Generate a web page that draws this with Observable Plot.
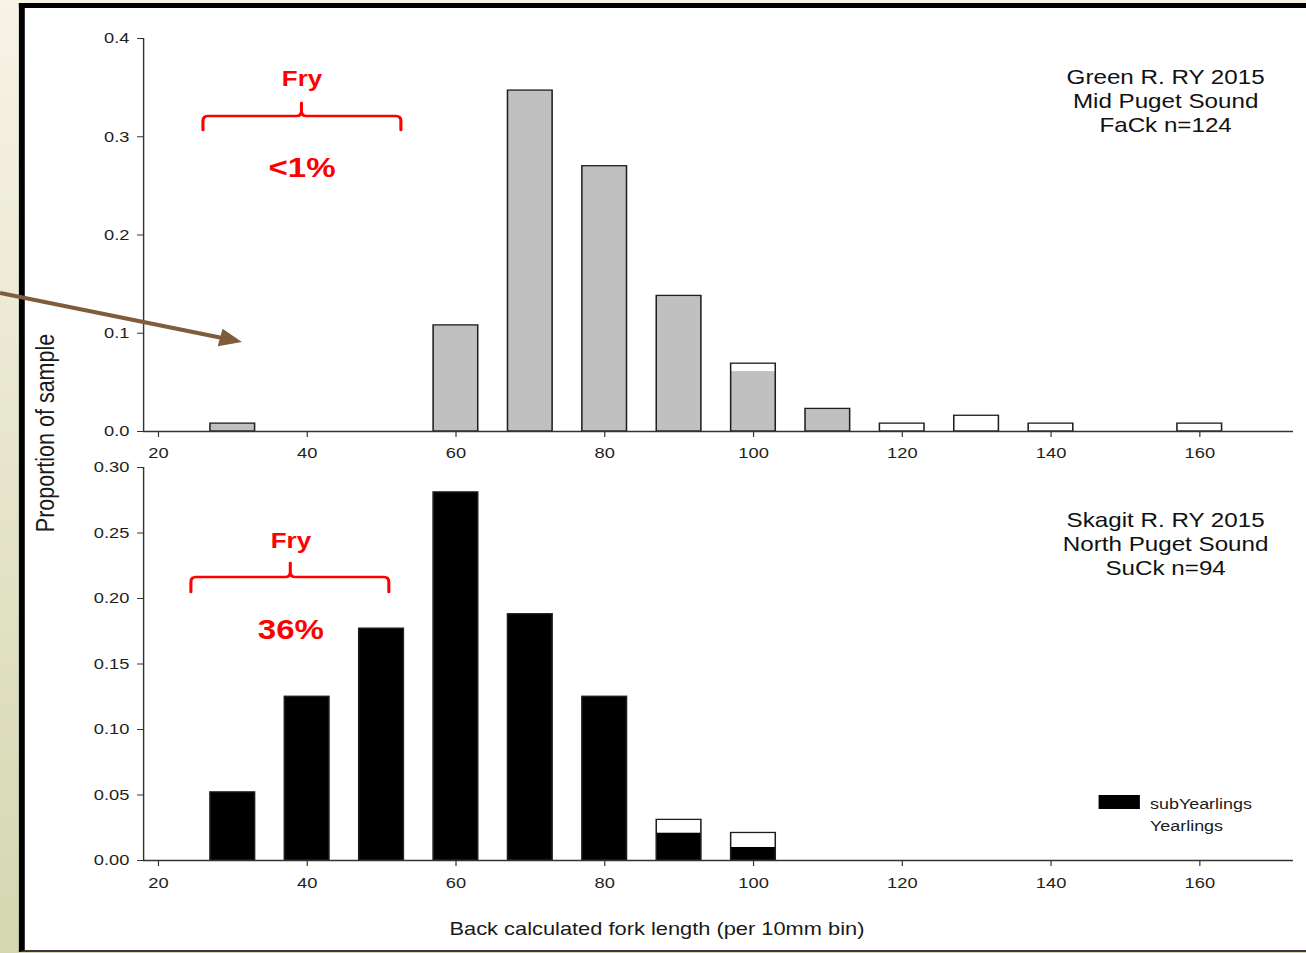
<!DOCTYPE html>
<html>
<head>
<meta charset="utf-8">
<script src="https://cdn.jsdelivr.net/npm/d3@7"></script>
<script src="https://cdn.jsdelivr.net/npm/@observablehq/plot@0.6"></script>
<style>
  html, body { margin:0; padding:0; width:1306px; height:953px; overflow:hidden; background:#ece9d2; }
  #outer { position:relative; width:1306px; height:953px; overflow:hidden; }
  #stage { position:absolute; left:0; top:0; width:1106.78px; height:953px; transform:scaleX(1.18); transform-origin:0 0;
           font-family:"Liberation Sans", Arial, sans-serif; color:#1a1a1a; }
  #bg { position:absolute; left:0; top:0; right:0; bottom:0; background:linear-gradient(to bottom, #f7f3e7, #d5d7b0); }
  #frame { position:absolute; left:15.5px; top:3px; width:1200px; height:942px; background:#fff;
           border-left:5px solid #000; border-top:5px solid #000; border-bottom:2px solid #3a3a3a; }
  .chart { position:absolute; left:0; }
  .chart svg { overflow:visible; }
  .lbl { position:absolute; white-space:nowrap; }
</style>
</head>
<body>
<div id="outer"><div id="stage">
  <div id="bg"></div>
  <div id="frame"></div>
  <div id="top" class="chart" style="top:0px"></div>
  <div id="bottom" class="chart" style="top:440px"></div>
</div></div>
<script>
// ---------------- data ----------------
const xTicks = [20, 40, 60, 80, 100, 120, 140, 160];
const topYTicks = [0, 0.1, 0.2, 0.3, 0.4];
const bottomYTicks = [0, 0.05, 0.10, 0.15, 0.20, 0.25, 0.30];

// Green R. (top panel)
const greenBins = [30, 60, 70, 80, 90, 100, 110, 120, 130, 140, 160];
const greenSub  = [0.008, 0.108, 0.347, 0.270, 0.138, 0.061, 0.023, 0, 0, 0, 0];
const greenYear = [0, 0, 0, 0, 0, 0.008, 0, 0.008, 0.016, 0.008, 0.008];

// Skagit R. (bottom panel)
const skagitBins = [30, 40, 50, 60, 70, 80, 90, 100];
const skagitSub  = [0.052, 0.125, 0.177, 0.281, 0.188, 0.125, 0.021, 0.010];
const skagitYear = [0, 0, 0, 0, 0, 0, 0.010, 0.011];

const topPanelLabel = ["Green R. RY 2015", "Mid Puget Sound", "FaCk n=124"];
const bottomPanelLabel = ["Skagit R. RY 2015", "North Puget Sound", "SuCk n=94"];
const legendLabels = ["subYearlings", "Yearlings"];
const yTitle = "Proportion of sample";
const xTitle = "Back calculated fork length (per 10mm bin)";

// annotations (data units)
const topFry = {label:"Fry", pct:"<1%", xc:39.3, yLabel:0.359, yPct:0.268, x1:26.06, x2:52.67, yEnd:0.3064, yBar:0.3206, yTip:0.3338};
const bottomFry = {label:"Fry", pct:"36%", xc:37.8, yLabel:0.2443, yPct:0.1756, x1:24.44, x2:51.05, yEnd:0.2046, yBar:0.2160, yTip:0.2267};
const pointer = {x1:-1.22, y1:0.1405, x2:31.3, y2:0.0906};
const panelLabelX = 155.4, topLabelY = 0.337, bottomLabelY = 0.242;

// ---------------- layout helpers ----------------
const S = 1.18, W = 1306 / S;
const L = px => px / S;
const FONT = '"Liberation Sans", Arial, sans-serif';
const xDomain = [18, 172.6];

function rows(bins, sub, year) {
  return bins.map((b, i) => ({bin: b, sub: sub[i], year: year[i], total: sub[i] + year[i]}));
}

function barMarks(data, subFill) {
  return [
    Plot.rect(data.filter(d => d.sub > 0), {x1: d => d.bin - 3, x2: d => d.bin + 3, y1: 0, y2: "sub", fill: subFill}),
    Plot.rect(data.filter(d => d.year > 0), {x1: d => d.bin - 3, x2: d => d.bin + 3, y1: "sub", y2: "total", fill: "#fff"}),
    Plot.rect(data, {x1: d => d.bin - 3, x2: d => d.bin + 3, y1: 0, y2: "total", fill: "none", stroke: "#1e1e1e", strokeWidth: 1.3})
  ];
}

function braceMark(b) {
  return (index, scales) => {
    const X1 = scales.x(b.x1), X2 = scales.x(b.x2), XC = scales.x(b.xc);
    const YE = scales.y(b.yEnd), YB = scales.y(b.yBar), YT = scales.y(b.yTip);
    const rx = 5 / S, ry = 5;
    const p = `M${X1},${YE} L${X1},${YB + ry} Q${X1},${YB} ${X1 + rx},${YB} L${XC - rx},${YB} Q${XC},${YB} ${XC},${YB - ry} L${XC},${YT}`
            + ` M${X2},${YE} L${X2},${YB + ry} Q${X2},${YB} ${X2 - rx},${YB} L${XC + rx},${YB} Q${XC},${YB} ${XC},${YB - ry}`;
    const g = d3.create("svg:path").attr("d", p).attr("fill", "none").attr("stroke", "#ff0000")
      .attr("stroke-width", 2.6).attr("stroke-linecap", "round").attr("stroke-linejoin", "round");
    return g.node();
  };
}

function fryMarks(b) {
  return [
    braceMark(b),
    Plot.text([b], {x: "xc", y: "yLabel", text: "label", fill: "#ff0000", fontSize: 22, fontWeight: "bold"}),
    Plot.text([b], {x: "xc", y: "yPct", text: "pct", fill: "#ff0000", fontSize: 28, fontWeight: "bold"})
  ];
}

function arrowMark(a) {
  return (index, scales) => {
    const x1 = scales.x(a.x1), y1 = scales.y(a.y1), x2 = scales.x(a.x2), y2 = scales.y(a.y2);
    const ang = Math.atan2(y2 - y1, x2 - x1);
    const len = 19, half = 9;
    const bx = x2 - len * Math.cos(ang), by = y2 - len * Math.sin(ang);
    const px = -Math.sin(ang) * half, py = Math.cos(ang) * half;
    const g = d3.create("svg:g");
    g.append("line").attr("x1", x1).attr("y1", y1).attr("x2", bx + 2 * Math.cos(ang)).attr("y2", by + 2 * Math.sin(ang))
      .attr("stroke", "#7f5d3b").attr("stroke-width", 4);
    g.append("path").attr("d", `M${x2},${y2} L${bx + px},${by + py} L${bx - px},${by - py} Z`).attr("fill", "#7f5d3b");
    return g.node();
  };
}

function axes(yTicks, fmt, yMin) {
  return [
    Plot.axisX({ticks: xTicks, tickSize: 6, tickPadding: 10, fontSize: 15.5, label: null, stroke: "#333", fill: "#1e1e1e"}),
    Plot.axisY({ticks: yTicks, tickFormat: fmt, tickSize: 5, tickPadding: 7, fontSize: 15.5, label: null, stroke: "#333", fill: "#1e1e1e"}),
    Plot.ruleY([yMin], {stroke: "#333", strokeWidth: 1.5}),
    Plot.ruleX([xDomain[0]], {stroke: "#333", strokeWidth: 1.2})
  ];
}

// ---------------- top panel ----------------
const topChart = Plot.plot({
  width: W, height: 470,
  marginLeft: L(143), marginRight: L(13), marginTop: 38, marginBottom: 39,
  x: {domain: xDomain}, y: {domain: [0, 0.4]},
  style: {background: "transparent", fontFamily: FONT, overflow: "visible"},
  marks: [
    ...barMarks(rows(greenBins, greenSub, greenYear), "#c0c0c0"),
    ...axes(topYTicks, ".1f", 0),
    ...fryMarks(topFry),
    Plot.text([topPanelLabel.join("\n")], {x: panelLabelX, y: topLabelY, text: d => d, fontSize: 20.5, lineHeight: 1.17, fill: "#111"}),
    arrowMark(pointer)
  ]
});
document.getElementById("top").appendChild(topChart);

// ---------------- bottom panel ----------------
const bottomChart = Plot.plot({
  width: W, height: 513,
  marginLeft: L(143), marginRight: L(13), marginTop: 27, marginBottom: 93,
  x: {domain: xDomain}, y: {domain: [0, 0.30]},
  style: {background: "transparent", fontFamily: FONT, overflow: "visible"},
  marks: [
    ...barMarks(rows(skagitBins, skagitSub, skagitYear), "#000"),
    ...axes(bottomYTicks, ".2f", 0),
    ...fryMarks(bottomFry),
    Plot.text([bottomPanelLabel.join("\n")], {x: panelLabelX, y: bottomLabelY, text: d => d, fontSize: 20.5, lineHeight: 1.17, fill: "#111"})
  ]
});
document.getElementById("bottom").appendChild(bottomChart);

// ---------------- titles & legend ----------------
const stage = document.getElementById("stage");
function addLabel(text, leftPx, topPx, css) {
  const d = document.createElement("div");
  d.className = "lbl";
  d.textContent = text;
  d.style.left = L(leftPx) + "px";
  d.style.top = topPx + "px";
  Object.assign(d.style, css);
  stage.appendChild(d);
  return d;
}
addLabel(yTitle, 46, 433, {fontSize: "21.5px", transform: "translate(-50%,-50%) rotate(-90deg)"});
addLabel(xTitle, 657, 929, {fontSize: "18.5px", transform: "translate(-50%,-50%)"});

// legend
const sw = document.createElement("div");
Object.assign(sw.style, {position: "absolute", left: L(1098) + "px", top: "795px", width: L(42) + "px", height: "14px", background: "#000"});
stage.appendChild(sw);
addLabel(legendLabels[0], 1150, 803, {fontSize: "15.2px", transform: "translateY(-50%)"});
addLabel(legendLabels[1], 1150, 825, {fontSize: "15.2px", transform: "translateY(-50%)"});
</script>
</body>
</html>
